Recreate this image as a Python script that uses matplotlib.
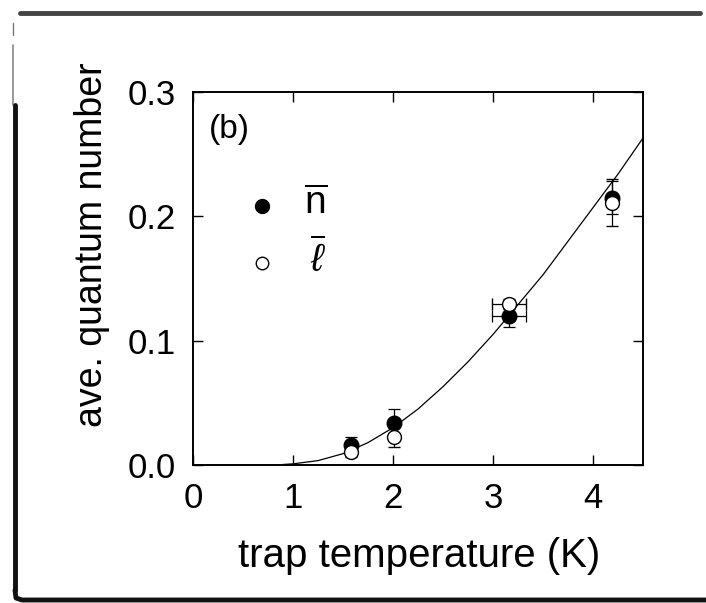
import numpy as np
import matplotlib.pyplot as plt
from matplotlib.lines import Line2D

plt.rcParams['font.family'] = ['Liberation Sans', 'DejaVu Sans']
plt.rcParams['mathtext.fontset'] = 'custom'
plt.rcParams['mathtext.rm'] = 'Liberation Sans'
plt.rcParams['mathtext.it'] = 'Liberation Sans:italic'

# measured points: filled = n-bar, open = l-bar
temp = [1.58, 2.01, 3.16, 4.19]
temp_err = [0, 0, 0.17, 0]
n_bar = [0.016, 0.034, 0.120, 0.215]
n_err = [0.0065, 0.011, 0.009, 0.0135]
l_bar = [0.0105, 0.0225, 0.1295, 0.211]
l_err = [0.004, 0.008, 0.004, 0.019]

# theory curve
curve_t = [0.9, 1.0, 1.25, 1.5, 1.75, 2.0, 2.25, 2.5, 2.75, 3.0, 3.25, 3.5, 3.75, 4.0, 4.25, 4.5]
curve_n = [0.0004, 0.0009, 0.0035, 0.0091, 0.018, 0.030, 0.045, 0.063, 0.083, 0.105,
           0.129, 0.153, 0.180, 0.207, 0.234, 0.263]

fig = plt.figure(figsize=(7.06, 6.03), dpi=100)
ax = fig.add_axes([0.2734, 0.2289, 0.6374, 0.6185])

ax.plot(curve_t, curve_n, color='black', lw=0.9, zorder=2)

# errorbars
ax.errorbar(temp, n_bar, yerr=n_err, xerr=temp_err, fmt='o', ms=10.5, mfc='black', mec='black',
            ecolor='black', elinewidth=0.9, capsize=4, capthick=0.9, zorder=3)
ax.errorbar(temp, l_bar, yerr=l_err, xerr=temp_err, fmt='o', ms=10, mfc='white', mec='black', mew=1.0,
            ecolor='black', elinewidth=0.9, capsize=4, capthick=0.9, zorder=4)

# hand legend
ax.plot([0.69], [0.208], 'o', ms=10, color='black')
ax.plot([0.69], [0.1625], 'o', ms=9, mfc='white', mec='black', mew=1.0)
ax.text(1.23, 0.210, r'$\overline{\mathrm{n}}$', fontsize=28, ha='center', va='center')
ax.text(1.25, 0.165, r'$\overline{\ell}$', fontsize=28, ha='center', va='center')
ax.text(0.16, 0.270, '(b)', fontsize=24, ha='left', va='center')

ax.set_xlim(0, 4.5)
ax.set_ylim(0, 0.3)
ax.set_xticks([0, 1, 2, 3, 4])
ax.set_yticks([0.0, 0.1, 0.2, 0.3])
ax.set_yticklabels(['0.0', '0.1', '0.2', '0.3'])
ax.tick_params(direction='in', length=7, width=1, labelsize=25, pad=12,
               top=True, right=True)
for s in ax.spines.values():
    s.set_linewidth(1.4)

fig.text(92 / 706, 1 - 245 / 603, 'ave. quantum number', rotation=90,
         fontsize=27, ha='center', va='center')
fig.text(419 / 706, 1 - 556 / 603, 'trap temperature (K)', fontsize=29,
         ha='center', va='center')

# scanned border
W, H = 706, 603
def fl(xs, ys, lw, c):
    fig.add_artist(Line2D([x / W for x in xs], [1 - y / H for y in ys],
                          transform=fig.transFigure, lw=lw, color=c,
                          solid_capstyle='round'))

fl([20, 700], [13, 13], 3.5, '#444444')
fl([13, 13], [23, 35], 1.0, '#777777')
fl([13, 13], [45, 105], 1.2, '#888888')
fl([15, 15], [105, 590], 3.5, '#111111')
fl([15, 16, 22, 706], [590, 598, 600, 600], 3.5, '#111111')

fig.savefig('out.png', dpi=100)
